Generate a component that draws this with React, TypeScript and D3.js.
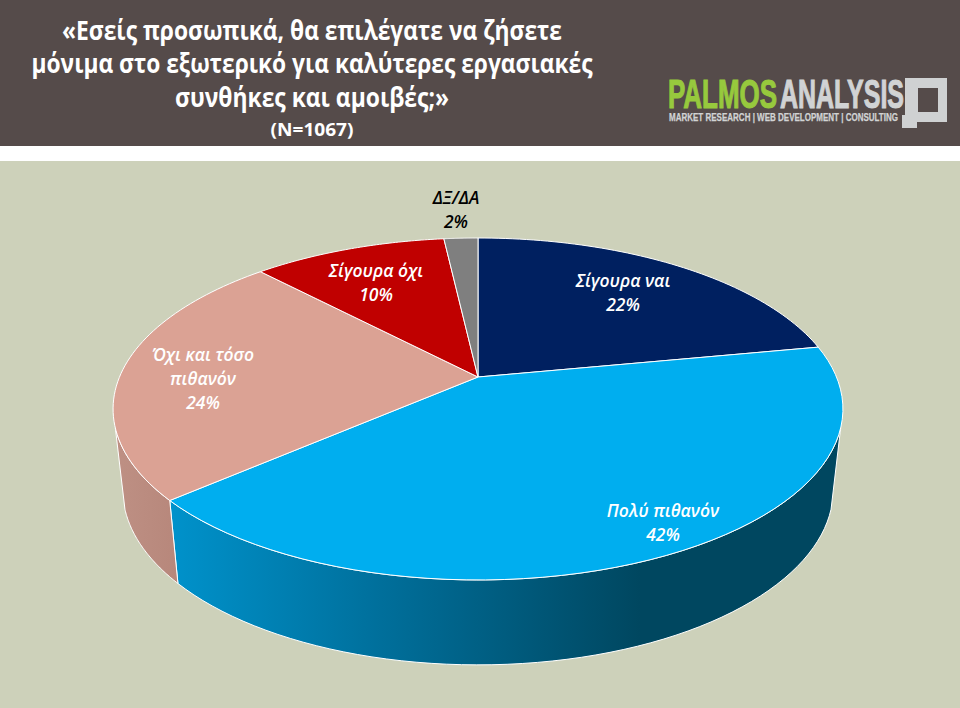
import React from "react";
import * as d3 from "d3";

const categories = ["Σίγουρα ναι", "Πολύ πιθανόν", "Όχι και τόσο πιθανόν", "Σίγουρα όχι", "ΔΞ/ΔΑ"];
const values = [22, 41.6, 24.3, 10.3, 1.8];
const shownPercent = ["22%", "42%", "24%", "10%", "2%"];
const topColors = ["#002060", "#00AEEF", "#DBA294", "#C00000", "#7F7F7F"];
const labelColors = ["#fff", "#fff", "#fff", "#fff", "#000"];
const labelLines = [["Σίγουρα ναι"], ["Πολύ πιθανόν"], ["Όχι και τόσο", "πιθανόν"], ["Σίγουρα όχι"], ["ΔΞ/ΔΑ"]];
const labelAnchors = [[623, 287], [663, 517], [203, 361], [376, 277], [456, 204]];
const titleLines = ["«Εσείς προσωπικά, θα επιλέγατε να ζήσετε", "μόνιμα στο εξωτερικό για καλύτερες εργασιακές", "συνθήκες και αμοιβές;»"];
const titleWidths = [500, 561, 274];
const titleBaselines = [40, 73, 107];

const W = 960, H = 708;
const cx = 478, cy = 377, k = 0.187;
const topPlane = { R: 358.5, H: 165, y0: cy };
const botPlane = { R: 349, H: 169, y0: 457 };
const TAU = Math.PI * 2;
const sideRight = (107 / 360) * TAU;
const sideLeft = (253 / 360) * TAU;

type Plane = { R: number; H: number; y0: number };
const project = (p: Plane, a: number): [number, number] => {
  const u = Math.sin(a), v = -Math.cos(a), den = 1 - k * v;
  return [cx + (p.R * u) / den, p.y0 + (p.H * v) / den];
};
const sample = (a0: number, a1: number) => d3.range(0, 61).map((i) => a0 + ((a1 - a0) * i) / 60);
const line = d3.line<[number, number]>().x((d) => d[0]).y((d) => d[1]);

const arcs = d3.pie<number>().sort(null).value((d) => d)(values);

export default function App() {
  const font = "'Open Sans', sans-serif";
  const sides = arcs
    .map((s, i) => {
      const a0 = Math.max(s.startAngle, sideRight), a1 = Math.min(s.endAngle, sideLeft);
      if (a1 <= a0) return null;
      const pts = sample(a0, a1);
      const d = line([...pts.map((a) => project(topPlane, a)), ...pts.slice().reverse().map((a) => project(botPlane, a))]) + "Z";
      return { i, d };
    })
    .filter(Boolean) as { i: number; d: string }[];

  return (
    <svg width={W} height={H} viewBox={`0 0 ${W} ${H}`} style={{ position: "absolute", left: 0, top: 0, display: "block" }}>
      <defs>
        <linearGradient id="blueSide" gradientUnits="userSpaceOnUse" x1={170} x2={640} y1={0} y2={0}>
          <stop offset="0" stopColor="#0092CB" />
          <stop offset="0.45" stopColor="#006F9B" />
          <stop offset="1" stopColor="#004760" />
        </linearGradient>
        <linearGradient id="pinkSide" gradientUnits="userSpaceOnUse" x1={115} x2={178} y1={0} y2={0}>
          <stop offset="0" stopColor="#BE9084" />
          <stop offset="1" stopColor="#B7877B" />
        </linearGradient>
      </defs>
      <rect width={W} height={H} fill="#fff" />
      <rect width={W} height={146} fill="#554B4A" />
      <rect y={161} width={W} height={H - 161} fill="#CDD1BA" />

      <g fontFamily={font} fontWeight={700} fill="#fff">
        {titleLines.map((t, i) => (
          <text key={i} x={312 - titleWidths[i] / 2} y={titleBaselines[i]} fontSize={26} textLength={titleWidths[i]} lengthAdjust="spacingAndGlyphs">{t}</text>
        ))}
        <text x={270.5} y={136} fontSize={18} textLength={83} lengthAdjust="spacingAndGlyphs">(N=1067)</text>
      </g>

      <g fontFamily="'Liberation Sans Narrow', 'Liberation Sans', sans-serif" fontWeight={700}>
        <text x={668} y={108} fontSize={40} fill="#97C93D" stroke="#97C93D" strokeWidth={1.1} textLength={109} lengthAdjust="spacingAndGlyphs">PALMOS</text>
        <text x={780} y={108} fontSize={40} fill="#D1D3D4" stroke="#D1D3D4" strokeWidth={1.1} textLength={124} lengthAdjust="spacingAndGlyphs">ANALYSIS</text>
        <text x={669} y={121} fontSize={10} fill="#D1D3D4" stroke="#D1D3D4" strokeWidth={0.25} textLength={229} lengthAdjust="spacingAndGlyphs">MARKET RESEARCH | WEB DEVELOPMENT | CONSULTING</text>
      </g>
      <path d="M905 78H947V122H917V128H902V115H905ZM918 88V112H938V88Z" fill="#CFD1D2" fillRule="evenodd" />

      <g stroke="#fff" strokeWidth={1} strokeLinejoin="round">
        {sides.map(({ i, d }) => (
          <path key={i} d={d} fill={i === 1 ? "url(#blueSide)" : "url(#pinkSide)"} />
        ))}
        {arcs.map((s, i) => {
          const d = "M" + cx + "," + cy + "L" + (line(sample(s.startAngle, s.endAngle).map((a) => project(topPlane, a))) as string).slice(1) + "Z";
          return <path key={i} d={d} fill={topColors[i]} />;
        })}
      </g>

      <g fontFamily={font} fontWeight={600} fontStyle="italic" fontSize={17.5} textAnchor="middle">
        {categories.map((c, i) => {
          const lines = [...labelLines[i], shownPercent[i]];
          return (
            <text key={c} fill={labelColors[i]}>
              {lines.map((l, j) => (
                <tspan key={j} x={labelAnchors[i][0]} y={labelAnchors[i][1] + j * 24}>{l}</tspan>
              ))}
            </text>
          );
        })}
      </g>
    </svg>
  );
}
